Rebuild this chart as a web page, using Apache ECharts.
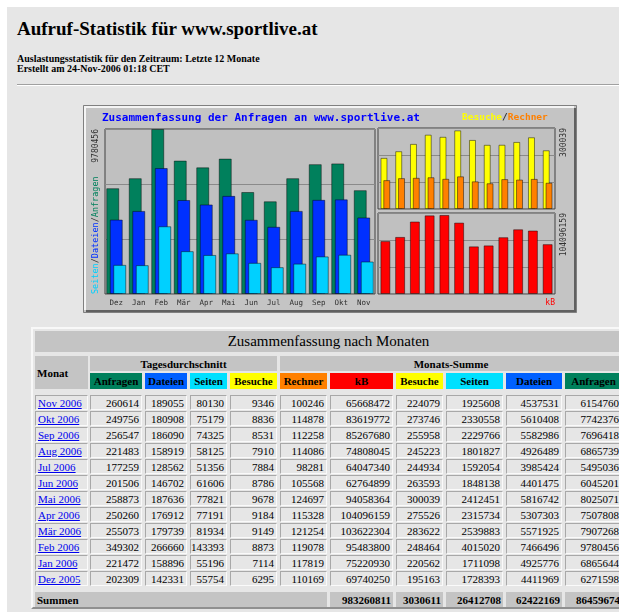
<!DOCTYPE html>
<html>
<head>
<meta charset="utf-8">
<title>Aufruf-Statistik für www.sportlive.at</title>
<script src="https://cdn.jsdelivr.net/npm/echarts@6/dist/echarts.min.js"></script>
<style>
html, body { margin: 0; padding: 0; background: #fff; }
body { width: 619px; height: 612px; position: relative; overflow: hidden; font-family: "Liberation Serif", "Times New Roman", serif; color: #000; }
#bg { position: absolute; left: 7px; top: 7px; width: 612px; height: 605px; background: #e6e6e6; }
.abs { position: absolute; white-space: nowrap; }
#h1 { left: 17px; top: 19px; font-size: 19px; line-height: 19px; font-weight: bold; }
#sub { left: 17px; top: 54px; font-size: 10px; line-height: 10px; font-weight: bold; }
#hr { left: 17px; top: 84px; width: 602px; height: 0; border-top: 1px solid #a0a0a0; border-bottom: 1px solid #fff; }
#chart { position: absolute; left: 83px; top: 105px; width: 494px; height: 208px; }
#tbl { position: absolute; left: 31px; top: 327px; width: 594px; height: 282px; border-top: 2px solid #f8f8f8; border-left: 2px solid #f8f8f8; border-right: 2px solid #909090; border-bottom: 2px solid #909090; box-sizing: border-box; }
.c { position: absolute; box-sizing: border-box; font-size: 11px; overflow: hidden; white-space: nowrap; display: flex; align-items: center; }
.d { border-top: 1px solid #a8a8a8; border-left: 1px solid #a8a8a8; border-right: 1px solid #fafafa; border-bottom: 1px solid #fafafa; justify-content: flex-end; padding-right: 2px; }
.h { background: #c4c4c4; font-weight: bold; justify-content: center; }
.c a { color: #0000ee; text-decoration: underline; }
</style>
</head>
<body>
<div id="bg"></div>
<div id="h1" class="abs">Aufruf-Statistik für www.sportlive.at</div>
<div id="sub" class="abs">Auslastungsstatistik für den Zeitraum: Letzte 12 Monate<br>Erstellt am 24-Nov-2006 01:18 CET</div>
<div id="hr" class="abs"></div>
<div id="chart"></div>
<div id="cells"></div>
<script>
// Monate, chronologisch (Dez 2005 .. Nov 2006)
var months = ['Dez', 'Jan', 'Feb', 'Mär', 'Apr', 'Mai', 'Jun', 'Jul', 'Aug', 'Sep', 'Okt', 'Nov'];
var monthRows = ['Dez 2005', 'Jan 2006', 'Feb 2006', 'Mär 2006', 'Apr 2006', 'Mai 2006',
                 'Jun 2006', 'Jul 2006', 'Aug 2006', 'Sep 2006', 'Okt 2006', 'Nov 2006'];

// Tagesdurchschnitt
var dayHits   = [202309, 221472, 349302, 255073, 250260, 258873, 201506, 177259, 221483, 256547, 249756, 260614];
var dayFiles  = [142331, 158896, 266660, 179739, 176912, 187636, 146702, 128562, 158919, 186090, 180908, 189055];
var dayPages  = [55754, 55196, 143393, 81934, 77191, 77821, 61606, 51356, 58125, 74325, 75179, 80130];
var dayVisits = [6295, 7114, 8873, 9149, 9184, 9678, 8786, 7884, 7910, 8531, 8836, 9346];

// Monats-Summe
var mSites  = [110169, 117819, 119078, 121254, 115328, 124697, 105568, 98281, 114086, 112258, 114878, 100246];
var mKB     = [69740250, 75220930, 95483800, 103622304, 104096159, 94058364, 62764899, 64047340, 74808045, 85267680, 83619772, 65668472];
var mVisits = [195163, 220562, 248464, 283622, 275526, 300039, 263593, 244934, 245223, 255958, 273746, 224079];
var mPages  = [1728393, 1711098, 4015020, 2539883, 2315734, 2412451, 1848138, 1592054, 1801827, 2229766, 2330558, 1925608];
var mFiles  = [4411969, 4925776, 7466496, 5571925, 5307303, 5816742, 4401475, 3985424, 4926489, 5582986, 5610408, 4537531];
var mHits   = [6271598, 6865644, 9780456, 7907268, 7507808, 8025071, 6045201, 5495036, 6865739, 7696418, 7742376, 6154760];

// Summen (kB, Besuche, Seiten, Dateien, Anfragen)
var totals = ['983260811', '3030611', '26412708', '62422169', '86459674'];

var headers = ['Anfragen', 'Dateien', 'Seiten', 'Besuche', 'Rechner', 'kB', 'Besuche', 'Seiten', 'Dateien', 'Anfragen'];
var headerColors = ['#00805c', '#0060ff', '#00e0ff', '#ffff00', '#ff8000', '#ff0000', '#ffff00', '#00e0ff', '#0060ff', '#00805c'];

var C = {hits: '#00805c', files: '#0030ff', pages: '#00d0ff', visits: '#ffff00', sites: '#ff8000', kb: '#ff0000'};
var MONO = '"DejaVu Sans Mono", monospace';

var hitsMax = Math.max.apply(null, mHits);
var visMax = Math.max.apply(null, mVisits);
var kbMax = Math.max.apply(null, mKB);

var chart = echarts.init(document.getElementById('chart'));

function yAx(idx, max) {
	return {
		type: 'value', gridIndex: idx, min: 0, max: max, interval: max / 3,
		axisLine: {show: false}, axisTick: {show: false}, axisLabel: {show: false},
		splitLine: {lineStyle: {color: '#8a8a8a', width: 1}}
	};
}
function xAx(idx, showLabel) {
	return {
		type: 'category', gridIndex: idx, data: months,
		axisLine: {show: false}, axisTick: {show: false},
		axisLabel: {show: showLabel, color: '#303030', fontFamily: MONO, fontSize: 7.5, margin: 5, interval: 0},
		splitLine: {show: false}
	};
}
function bar(name, data, color, x, w, gap) {
	var s = {
		name: name, type: 'bar', data: data, xAxisIndex: x, yAxisIndex: x,
		barWidth: w,
		itemStyle: {color: color, borderColor: 'rgba(0,0,0,0.45)', borderWidth: 1},
		animation: false
	};
	if (gap) s.barGap = gap;
	return s;
}

var option = {
	animation: false,
	grid: [
		{left: 22, top: 24, width: 270, height: 165, show: true, borderColor: '#404040', borderWidth: 1, backgroundColor: '#c0c0c0', outerBoundsMode: 'none'},
		{left: 295, top: 23, width: 177, height: 81, show: true, borderColor: '#404040', borderWidth: 1, backgroundColor: '#c0c0c0', outerBoundsMode: 'none'},
		{left: 295, top: 108, width: 177, height: 81, show: true, borderColor: '#404040', borderWidth: 1, backgroundColor: '#c0c0c0', outerBoundsMode: 'none'}
	],
	xAxis: [xAx(0, true), xAx(1, false), xAx(2, false)],
	yAxis: [yAx(0, hitsMax), yAx(1, visMax * 1.03), yAx(2, kbMax * 1.025)],
	series: [
		bar('Anfragen', mHits, C.hits, 0, 13, '-73%'),
		bar('Dateien', mFiles, C.files, 0, 13, '-73%'),
		bar('Seiten', mPages, C.pages, 0, 13, '-73%'),
		bar('Besuche', mVisits, C.visits, 1, 7, '-60%'),
		bar('Rechner', mSites, C.sites, 1, 7, '-60%'),
		bar('kB', mKB, C.kb, 2, 10)
	],
	graphic: [
		{type: 'rect', z: -10, shape: {x: 0, y: 0, width: 494, height: 208}, style: {fill: '#c4c4c4'}},
		{type: 'rect', z: -9, shape: {x: 0.5, y: 0.5, width: 493, height: 207}, style: {fill: null, stroke: '#808080', lineWidth: 1}},
		{type: 'polyline', z: -9, shape: {points: [[2, 205], [2, 2], [491, 2]]}, style: {fill: null, stroke: '#f4f4f4', lineWidth: 2}},
		{type: 'polyline', z: -9, shape: {points: [[3, 206], [492, 206], [492, 3]]}, style: {fill: null, stroke: '#606060', lineWidth: 2}},
		{type: 'text', z: 10, x: 19, y: 13, style: {text: 'Zusammenfassung der Anfragen an www.sportlive.at', font: 'bold 11px ' + MONO, fill: '#0000ff', align: 'left', verticalAlign: 'middle'}},
		{type: 'text', z: 10, x: 379, y: 13, style: {
			text: '{y|Besuche}{s|/}{o|Rechner}', font: 'bold 9.5px ' + MONO, align: 'left', verticalAlign: 'middle',
			rich: {y: {fill: '#ffff00', font: 'bold 9.5px ' + MONO}, s: {fill: '#303030', font: 'bold 9.5px ' + MONO}, o: {fill: '#ff8000', font: 'bold 9.5px ' + MONO}}
		}},
		{type: 'text', z: 10, x: 13, y: 24, rotation: Math.PI / 2, style: {text: String(hitsMax), font: '8px ' + MONO, fill: '#303030', align: 'right', verticalAlign: 'middle'}},
		{type: 'text', z: 10, x: 13, y: 189, rotation: Math.PI / 2, style: {
			text: '{c|Seiten}{s|/}{b|Dateien}{s|/}{a|Anfragen}', font: '8.5px ' + MONO, align: 'left', verticalAlign: 'middle',
			rich: {c: {fill: C.pages, font: '8.5px ' + MONO}, b: {fill: C.files, font: '8.5px ' + MONO}, a: {fill: C.hits, font: '8.5px ' + MONO}, s: {fill: '#303030', font: '8.5px ' + MONO}}
		}},
		{type: 'text', z: 10, x: 481, y: 23, rotation: Math.PI / 2, style: {text: String(visMax), font: '8px ' + MONO, fill: '#303030', align: 'right', verticalAlign: 'middle'}},
		{type: 'text', z: 10, x: 481, y: 108, rotation: Math.PI / 2, style: {text: String(kbMax), font: '8px ' + MONO, fill: '#303030', align: 'right', verticalAlign: 'middle'}},
		{type: 'text', z: 10, x: 472, y: 198, style: {text: 'kB', font: '8px ' + MONO, fill: '#ff0000', align: 'right', verticalAlign: 'middle'}}
	]
};
chart.setOption(option);

// Tabelle "Zusammenfassung nach Monaten"
var cols = [[35, 88], [90, 142], [145, 187], [190, 227], [230, 277], [280, 327], [330, 393], [396, 443], [446, 503], [506, 562], [565, 622]];
var box = document.getElementById('cells');
var tbl = document.createElement('div');
tbl.id = 'tbl';
box.appendChild(tbl);

function cell(x1, x2, y, h, html, cls, extra) {
	var d = document.createElement('div');
	d.className = 'c ' + cls;
	d.style.left = x1 + 'px';
	d.style.top = y + 'px';
	d.style.width = (x2 - x1) + 'px';
	d.style.height = h + 'px';
	if (extra) for (var k in extra) d.style[k] = extra[k];
	d.innerHTML = html;
	box.appendChild(d);
	return d;
}

cell(35, 622, 331, 21, 'Zusammenfassung nach Monaten', 'h', {fontWeight: 'normal', fontSize: '15px'});
cell(35, 88, 356, 33, 'Monat', 'h', {justifyContent: 'flex-start', paddingLeft: '2px'});
cell(90, 277, 356, 15, 'Tagesdurchschnitt', 'h');
cell(280, 622, 356, 15, 'Monats-Summe', 'h');
for (var j = 0; j < headers.length; j++) {
	cell(cols[j + 1][0], cols[j + 1][1], 373, 16, headers[j], 'h', {background: headerColors[j]});
}

var tableCols = [dayHits, dayFiles, dayPages, dayVisits, mSites, mKB, mVisits, mPages, mFiles, mHits];
for (var r = 0; r < 12; r++) {
	var i = 11 - r;
	var y = 395 + r * 16;
	cell(cols[0][0], cols[0][1], y, 15, '<a>' + monthRows[i] + '</a>', 'd', {justifyContent: 'flex-start', paddingLeft: '2px'});
	for (var k = 0; k < tableCols.length; k++) {
		cell(cols[k + 1][0], cols[k + 1][1], y, 15, String(tableCols[k][i]), 'd');
	}
}
cell(35, 327, 592, 15, 'Summen', 'h', {justifyContent: 'flex-start', paddingLeft: '2px'});
for (var t = 0; t < totals.length; t++) {
	cell(cols[t + 6][0], cols[t + 6][1], 592, 15, totals[t], 'h', {justifyContent: 'flex-end', paddingRight: '2px'});
}
</script>
</body>
</html>
